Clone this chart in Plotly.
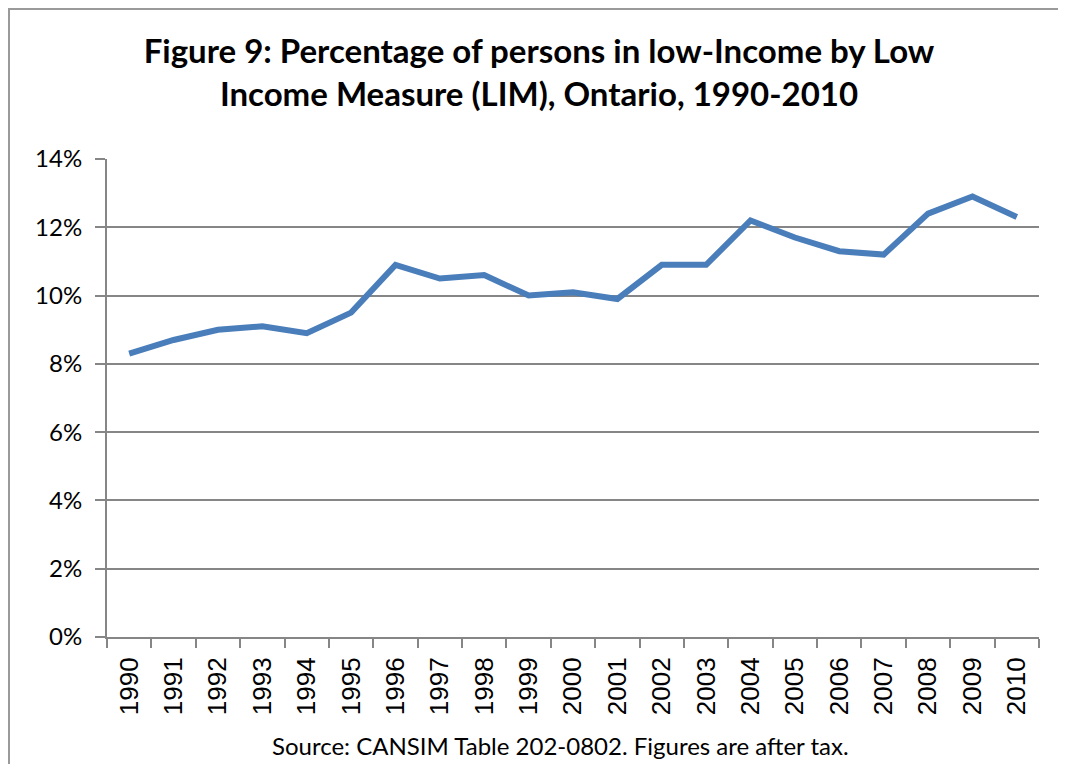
import plotly.graph_objects as go

# Ontario, persons in low income by LIM (after tax), %
years = [str(y) for y in range(1990, 2011)]
low_income_pct = [8.3, 8.7, 9.0, 9.1, 8.9, 9.5, 10.9, 10.5, 10.6, 10.0, 10.1,
                  9.9, 10.9, 10.9, 12.2, 11.7, 11.3, 11.2, 12.4, 12.9, 12.3]
y_ticks = [0, 2, 4, 6, 8, 10, 12, 14]
y_tick_labels = [f"{v}%" for v in y_ticks]

title_text = ("Figure 9: Percentage of persons in low-Income by Low<br>"
              "Income Measure (LIM), Ontario, 1990-2010")
source_text = "Source: CANSIM Table 202-0802. Figures are after tax."

# page body adds an 8px offset, so the figure is a bit smaller than the window
OFF = 8
W, H = 1066 - OFF, 764 - OFF
L, R, T, B = 107 - OFF, 27, 159 - OFF, 127
PW, PH = W - L - R, H - T - B
grid = "#868686"

fig = go.Figure()
fig.add_trace(go.Scatter(x=years, y=low_income_pct, mode="lines",
                         line=dict(color="#4a7ebb", width=6), showlegend=False))

fig.update_layout(
    width=W, height=H,
    margin=dict(l=L, r=R, t=T, b=B),
    paper_bgcolor="white", plot_bgcolor="white",
    font=dict(family="Lato, sans-serif", color="black"),
    title=dict(text="<b>" + title_text + "</b>", x=(539 - OFF) / W, xanchor="center",
               y=1 - 55 / H, yanchor="top",
               font=dict(family="Lato, sans-serif", size=33, color="black")),
    xaxis=dict(type="category", range=[-0.5, 20.5], tickangle=-90,
               tickson="boundaries", ticks="outside", ticklen=9, tickcolor=grid,
               tickwidth=2, showline=True, linecolor=grid, linewidth=2,
               showgrid=False, ticklabelstandoff=8,
               tickfont=dict(family="Liberation Sans, Arial", size=26)),
    yaxis=dict(range=[0, 14], tickvals=y_ticks, ticktext=y_tick_labels,
               ticks="outside", ticklen=10, tickcolor=grid, tickwidth=2,
               showline=True, linecolor=grid, linewidth=2,
               showgrid=True, gridcolor=grid, gridwidth=2, zeroline=False,
               ticklabelstandoff=8,
               tickfont=dict(family="Lato, sans-serif", size=24)),
    annotations=[dict(text=source_text, xref="paper", yref="paper",
                      x=(560 - 107) / PW, y=-(745 - 637) / PH,
                      xanchor="center", yanchor="middle", showarrow=False,
                      font=dict(family="Lato, sans-serif", size=24))],
    shapes=[dict(type="rect", xref="paper", yref="paper",
                 x0=(9 - 107) / PW, x1=(1090 - 107) / PW,
                 y0=-(790 - 637) / PH, y1=1 + (159 - 9) / PH,
                 line=dict(color="#9a9a9a", width=2), layer="below")],
)

fig.write_html("out.html")
